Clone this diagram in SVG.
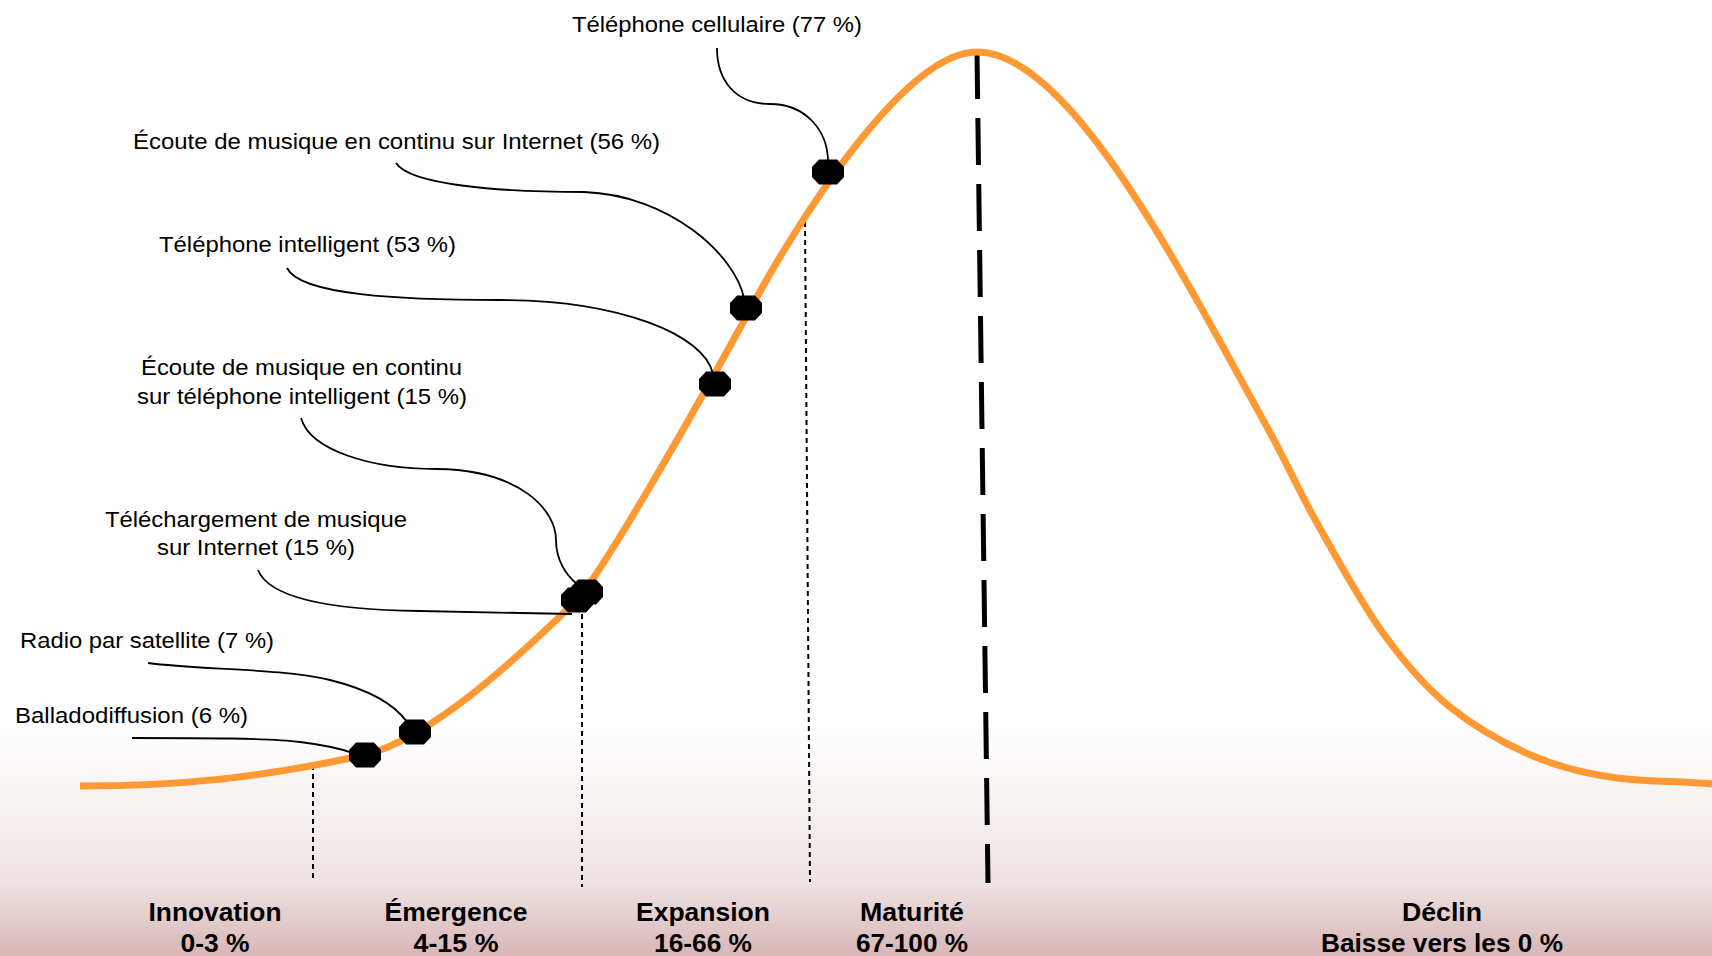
<svg xmlns="http://www.w3.org/2000/svg" width="1712" height="956" viewBox="0 0 1712 956">
<defs>
<linearGradient id="bg" x1="0" y1="0" x2="0" y2="956" gradientUnits="userSpaceOnUse">
<stop offset="0" stop-color="#ffffff"/>
<stop offset="0.76" stop-color="#ffffff"/>
<stop offset="0.92" stop-color="#efe4e4"/>
<stop offset="1" stop-color="#d8b6b6"/>
</linearGradient>
<polygon id="oct" points="-16,-5 -9,-12.5 9,-12.5 16,-5 16,5 9,12.5 -9,12.5 -16,5" fill="#000"/>
</defs>
<style>
.lbl{font-family:"Liberation Sans",Arial,sans-serif;font-size:22px;fill:#000}
.ph{font-family:"Liberation Sans",Arial,sans-serif;font-size:25px;font-weight:bold;fill:#000;text-anchor:middle}
.lead{fill:none;stroke:#000;stroke-width:1.8}
.thin{fill:none;stroke:#000;stroke-width:2;stroke-dasharray:5 4}
.curve{fill:none;stroke:#ff9933;stroke-width:7;stroke-linecap:butt}
</style>
<rect x="0" y="0" width="1712" height="956" fill="url(#bg)"/>

<g id="dividers">
<line class="thin" x1="313" y1="765" x2="313" y2="882"/>
<line class="thin" x1="582" y1="614" x2="582" y2="887"/>
<line class="thin" x1="805" y1="222" x2="810" y2="882"/>
<line x1="977" y1="52" x2="988" y2="883" stroke="#000" stroke-width="5" stroke-dasharray="47 19"/>
</g>

<g id="curve">
<path class="curve" d="M80,786 C180,786 260,778 365,755 C430,738 510,665 575,602 C600,577 690,420 757,297 C787,242 900,52 977,52 C1070,52 1180,270 1267,427 C1287.7,464.7 1297.7,488.7 1317,523 C1336.3,557.3 1360.8,602.3 1383,633 C1405.2,663.7 1425,687 1450,707 C1475,727 1505,744 1533,756 C1561,768 1587,774 1617,778 C1647,782 1680,781 1712,784"/>
</g>

<g id="connectors">
<path class="lead" d="M717,48 C717,80 735,104 770,104 C805,104 828,130 828,162"/>
<path class="lead" d="M396,163 C410,185 500,192 584,192 C670,195 735,255 744,298"/>
<path class="lead" d="M287,268 C300,295 400,300 500,300 C620,300 705,335 713,374"/>
<path class="lead" d="M301,418 C310,450 370,469 437,469 C520,470 556,510 556,540 C556,560 566,575 577,584"/>
<path class="lead" d="M258,570 C270,600 340,610 420,611 L572,614"/>
<path class="lead" d="M148,663 C200,670 280,668 330,680 C370,690 395,705 407,722"/>
<path class="lead" d="M132,738 C200,738 270,738 300,742 C325,745 345,750 356,754"/>
</g>

<g id="node-cellulaire">
<use href="#oct" x="828" y="172"/>
<text class="lbl" x="572" y="32" textLength="290" lengthAdjust="spacingAndGlyphs">Téléphone cellulaire (77 %)</text>
</g>
<g id="node-ecoute-internet">
<use href="#oct" x="746" y="308"/>
<text class="lbl" x="133" y="149" textLength="527" lengthAdjust="spacingAndGlyphs">Écoute de musique en continu sur Internet (56 %)</text>
</g>
<g id="node-telephone-intelligent">
<use href="#oct" x="715" y="384"/>
<text class="lbl" x="159" y="252" textLength="297" lengthAdjust="spacingAndGlyphs">Téléphone intelligent (53 %)</text>
</g>
<g id="node-telechargement">
<use href="#oct" x="577" y="600"/>
<text class="lbl" x="105" y="527" textLength="302" lengthAdjust="spacingAndGlyphs">Téléchargement de musique</text>
<text class="lbl" x="157" y="555" textLength="198" lengthAdjust="spacingAndGlyphs">sur Internet (15 %)</text>
</g>
<g id="node-ecoute-smartphone">
<use href="#oct" x="587" y="592"/>
<text class="lbl" x="141" y="375" textLength="321" lengthAdjust="spacingAndGlyphs">Écoute de musique en continu</text>
<text class="lbl" x="137" y="404" textLength="330" lengthAdjust="spacingAndGlyphs">sur téléphone intelligent (15 %)</text>
</g>
<g id="node-radio">
<use href="#oct" x="415" y="732"/>
<text class="lbl" x="20" y="648" textLength="254" lengthAdjust="spacingAndGlyphs">Radio par satellite (7 %)</text>
</g>
<g id="node-balladodiffusion">
<use href="#oct" x="365" y="755"/>
<text class="lbl" x="15" y="723" textLength="233" lengthAdjust="spacingAndGlyphs">Balladodiffusion (6 %)</text>
</g>

<g id="phase-innovation">
<text class="ph" x="215" y="921" textLength="133" lengthAdjust="spacingAndGlyphs">Innovation</text>
<text class="ph" x="215" y="952" textLength="69" lengthAdjust="spacingAndGlyphs">0-3 %</text>
</g>
<g id="phase-emergence">
<text class="ph" x="456" y="921" textLength="143" lengthAdjust="spacingAndGlyphs">Émergence</text>
<text class="ph" x="456" y="952" textLength="85" lengthAdjust="spacingAndGlyphs">4-15 %</text>
</g>
<g id="phase-expansion">
<text class="ph" x="703" y="921" textLength="134" lengthAdjust="spacingAndGlyphs">Expansion</text>
<text class="ph" x="703" y="952" textLength="98" lengthAdjust="spacingAndGlyphs">16-66 %</text>
</g>
<g id="phase-maturite">
<text class="ph" x="912" y="921" textLength="104" lengthAdjust="spacingAndGlyphs">Maturité</text>
<text class="ph" x="912" y="952" textLength="112" lengthAdjust="spacingAndGlyphs">67-100 %</text>
</g>
<g id="phase-declin">
<text class="ph" x="1442" y="921" textLength="80" lengthAdjust="spacingAndGlyphs">Déclin</text>
<text class="ph" x="1442" y="952" textLength="242" lengthAdjust="spacingAndGlyphs">Baisse vers les 0 %</text>
</g>
</svg>
